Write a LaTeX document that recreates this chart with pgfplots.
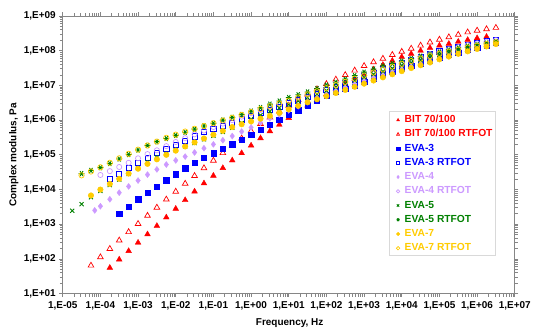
\documentclass[border=0pt]{standalone}
\usepackage{pgfplots}
\pgfplotsset{compat=1.18}
\usepackage{fontspec}
\setmainfont{Liberation Sans}
\definecolor{cred}{RGB}{255,0,0}
\definecolor{cblue}{RGB}{0,0,255}
\definecolor{clav}{RGB}{204,153,255}
\definecolor{cgreen}{RGB}{0,128,0}
\definecolor{cgold}{RGB}{255,204,0}
\definecolor{axgray}{RGB}{134,134,134}
\definecolor{leggray}{RGB}{217,217,217}
\begin{document}
\fontsize{10bp}{12bp}\selectfont\bfseries
\begin{tikzpicture}
\begin{axis}[
  scale only axis, width=454bp, height=279bp,
  xmode=log, ymode=log,
  xmin=1e-5, xmax=1e7, ymin=10, ymax=1e9,
  xtick={1e-5,1e-4,1e-3,1e-2,1e-1,1e0,1e1,1e2,1e3,1e4,1e5,1e6,1e7},
  xticklabels={{1,E-05},{1,E-04},{1,E-03},{1,E-02},{1,E-01},{1,E+00},{1,E+01},{1,E+02},{1,E+03},{1,E+04},{1,E+05},{1,E+06},{1,E+07}},
  ytick={1e1,1e2,1e3,1e4,1e5,1e6,1e7,1e8,1e9},
  yticklabels={{1,E+01},{1,E+02},{1,E+03},{1,E+04},{1,E+05},{1,E+06},{1,E+07},{1,E+08},{1,E+09}},
  minor tick num=0, log ticks with fixed point=false,
  tick align=outside, major tick length=3.5bp,
  axis line style={axgray, line width=0.8bp},
  every tick/.style={axgray, line width=0.8bp},
  ticklabel style={font=\fontsize{10bp}{12bp}\selectfont\bfseries, black},
  xticklabel style={yshift=-1bp},
  xlabel={Frequency, Hz}, ylabel={Complex modulus, Pa},
  label style={font=\fontsize{10bp}{12bp}\selectfont\bfseries},
  xlabel style={at={(axis description cs:0.502,-0.104)}, anchor=center},
  ylabel style={at={(axis description cs:-0.108,0.5)}, anchor=center},
  clip=false,
  legend style={at={(axis description cs:0.726,0.655)}, anchor=north west,
    draw=none, fill=none,
    inner xsep=2bp, inner ysep=1bp, column sep=1.5bp,
    font=\fontsize{10.3bp}{12bp}\selectfont\bfseries,
    nodes={inner xsep=1.2bp, inner ysep=2.4bp, text height=7.3bp, text depth=2.2bp}},
  legend cell align=left,
  legend image code/.code={\path[draw=none,fill=none] (0bp,-1bp) rectangle (9bp,1bp); \draw[#1, mark size=1.7bp] plot coordinates {(5bp,0bp)};},
]
\draw[leggray, line width=0.7bp, fill=white] (axis description cs:0.7218,0.657) rectangle (axis description cs:0.9566,0.1398);
% BIT 70/100
\addplot[only marks, mark=triangle*, mark size=3.3bp, cred, mark options={fill=cred, draw=cred}] coordinates {
(1.78e-4,56) (3.16e-4,97) (5.62e-4,170) (1e-3,296) (1.78e-3,516) (3.16e-3,899) (5.62e-3,1580) (1e-2,2810) (1.78e-2,4980) (3.16e-2,8810) (5.62e-2,1.51e4) (0.1,2.51e4) (0.178,4.17e4) (0.316,6.92e4) (0.562,1.12e5) (1,1.86e5) (1.78,3.02e5) (3.16,4.79e5) (5.62,7.41e5) (10,1.15e6) (17.8,1.78e6) (31.6,2.63e6) (56.2,3.89e6) (100,5.62e6) (178,7.94e6) (316,1.12e7) (562,1.55e7) (1e3,2.14e7) (1.78e3,2.88e7) (3.16e3,3.89e7) (5.62e3,5.13e7) (1e4,6.61e7) (1.78e4,8.13e7) (3.16e4,1e8) (5.62e4,1.2e8) (1e5,1.41e8) (1.78e5,1.58e8) (3.16e5,1.82e8) (5.62e5,2.04e8) (1e6,2.29e8) (1.78e6,2.51e8)};
\addlegendentry{\textcolor{cred}{BIT 70/100}}
% BIT 70/100 RTFOT
\addplot[only marks, mark=triangle, mark size=3.3bp, cred, mark options={fill=white, draw=cred, line width=0.7bp}] coordinates {
(5.62e-5,65) (1e-4,113) (1.78e-4,197) (3.16e-4,344) (5.62e-4,600) (1e-3,1030) (1.78e-3,1770) (3.16e-3,3040) (5.62e-3,5200) (1e-2,8750) (1.78e-2,1.48e4) (3.16e-2,2.48e4) (5.62e-2,4.15e4) (0.1,6.85e4) (0.178,1.13e5) (0.316,1.85e5) (0.562,2.99e5) (1,4.83e5) (1.78,7.82e5) (3.16,1.2e6) (5.62,1.78e6) (10,2.63e6) (17.8,3.8e6) (31.6,5.5e6) (56.2,7.76e6) (100,1.1e7) (178,1.48e7) (316,2e7) (562,2.69e7) (1e3,3.63e7) (1.78e3,4.68e7) (3.16e3,5.89e7) (5.62e3,7.59e7) (1e4,9.33e7) (1.78e4,1.15e8) (3.16e4,1.41e8) (5.62e4,1.74e8) (1e5,2.09e8) (1.78e5,2.45e8) (3.16e5,2.88e8) (5.62e5,3.39e8) (1e6,3.8e8) (1.78e6,4.17e8) (3.16e6,4.57e8)};
\addlegendentry{\textcolor{cred}{BIT 70/100 RTFOT}}
% EVA-3
\addplot[only marks, mark=square*, mark size=2.7bp, cblue, mark options={fill=cblue, draw=cblue}] coordinates {
(3.16e-4,2000) (5.62e-4,3240) (1e-3,5250) (1.78e-3,8130) (3.16e-3,1.23e4) (5.62e-3,1.86e4) (1e-2,2.75e4) (1.78e-2,4.17e4) (3.16e-2,6.03e4) (5.62e-2,8.32e4) (0.1,1.12e5) (0.178,1.48e5) (0.316,2e5) (0.562,2.75e5) (1,3.8e5) (1.78,5.37e5) (3.16,7.41e5) (5.62,1.02e6) (10,1.41e6) (17.8,1.95e6) (31.6,2.69e6) (56.2,3.72e6) (100,5.01e6) (178,6.46e6) (316,8.13e6) (562,1.02e7) (1e3,1.29e7) (1.78e3,1.62e7) (3.16e3,2.04e7) (5.62e3,2.51e7) (1e4,3.02e7) (1.78e4,3.63e7) (3.16e4,4.37e7) (5.62e4,5.25e7) (1e5,6.31e7) (1.78e5,7.59e7) (3.16e5,8.91e7) (5.62e5,1.05e8) (1e6,1.23e8) (1.78e6,1.45e8) (3.16e6,1.7e8)};
\addlegendentry{\textcolor{cblue}{EVA-3}}
% EVA-3 RTFOT
\addplot[only marks, mark=square, mark size=2.6bp, cblue, mark options={fill=white, draw=cblue, line width=0.7bp}] coordinates {
(1.78e-4,2e4) (3.16e-4,2.88e4) (5.62e-4,4.17e4) (1e-3,5.89e4) (1.78e-3,8.13e4) (3.16e-3,1.12e5) (5.62e-3,1.48e5) (1e-2,1.95e5) (1.78e-2,2.57e5) (3.16e-2,3.39e5) (5.62e-2,4.47e5) (0.1,5.5e5) (0.178,6.76e5) (0.316,8.32e5) (0.562,1.05e6) (1,1.35e6) (1.78,1.66e6) (3.16,2e6) (5.62,2.45e6) (10,3.02e6) (17.8,3.72e6) (31.6,4.68e6) (56.2,5.75e6) (100,7.24e6) (178,9.12e6) (316,1.17e7) (562,1.48e7) (1e3,1.86e7) (1.78e3,2.34e7) (3.16e3,2.88e7) (5.62e3,3.55e7) (1e4,4.37e7) (1.78e4,5.37e7) (3.16e4,6.61e7) (5.62e4,7.94e7) (1e5,9.55e7) (1.78e5,1.1e8) (3.16e5,1.26e8) (5.62e5,1.45e8) (1e6,1.66e8) (1.78e6,1.86e8) (3.16e6,2.04e8)};
\addlegendentry{\textcolor{cblue}{EVA-3 RTFOT}}
% EVA-4
\addplot[only marks, mark=diamond*, mark size=3.0bp, clav, mark options={fill=clav, draw=clav}] coordinates {
(7.08e-5,2510) (1e-4,3310) (1.78e-4,5250) (3.16e-4,8130) (5.62e-4,1.23e4) (1e-3,1.82e4) (1.78e-3,2.69e4) (3.16e-3,3.8e4) (5.62e-3,5.25e4) (1e-2,6.92e4) (1.78e-2,8.91e4) (3.16e-2,1.17e5) (5.62e-2,1.55e5) (0.1,2e5) (0.178,2.63e5) (0.316,3.47e5) (0.562,4.68e5) (1,6.17e5) (1.78,8.51e5) (3.16,1.12e6) (5.62,1.45e6) (10,1.91e6) (17.8,2.51e6) (31.6,3.39e6) (56.2,4.37e6) (100,5.5e6) (178,6.92e6) (316,8.71e6) (562,1.12e7) (1e3,1.41e7) (1.78e3,1.74e7) (3.16e3,2.14e7) (5.62e3,2.69e7) (1e4,3.31e7) (1.78e4,3.98e7) (3.16e4,4.9e7) (5.62e4,5.89e7) (1e5,7.24e7) (1.78e5,8.32e7) (3.16e5,9.77e7) (5.62e5,1.12e8) (1e6,1.32e8) (1.78e6,1.48e8) (3.16e6,1.66e8)};
\addlegendentry{\textcolor{clav}{EVA-4}}
% EVA-4 RTFOT
\addplot[only marks, mark=o, mark size=2.6bp, clav, mark options={fill=white, draw=clav, line width=0.7bp}] coordinates {
(1e-4,2.63e4) (1.78e-4,3.39e4) (3.16e-4,4.47e4) (5.62e-4,5.89e4) (1e-3,7.94e4) (1.78e-3,1.05e5) (3.16e-3,1.35e5) (5.62e-3,1.78e5) (1e-2,2.34e5) (1.78e-2,3.02e5) (3.16e-2,3.89e5) (5.62e-2,5.01e5) (0.1,6.31e5) (0.178,7.94e5) (0.316,1e6) (0.562,1.26e6) (1,1.58e6) (1.78,1.95e6) (3.16,2.4e6) (5.62,2.95e6) (10,3.63e6) (17.8,4.47e6) (31.6,5.5e6) (56.2,6.76e6) (100,8.32e6) (178,1.02e7) (316,1.26e7) (562,1.58e7) (1e3,1.95e7) (1.78e3,2.4e7) (3.16e3,2.95e7) (5.62e3,3.63e7) (1e4,4.47e7) (1.78e4,5.5e7) (3.16e4,6.61e7) (5.62e4,7.94e7) (1e5,9.33e7) (1.78e5,1.1e8) (3.16e5,1.26e8) (5.62e5,1.45e8) (1e6,1.62e8) (1.78e6,1.82e8) (3.16e6,2e8)};
\addlegendentry{\textcolor{clav}{EVA-4 RTFOT}}
% EVA-5
\addplot[only marks, mark=x, mark size=2.9bp, cgreen, mark options={draw=cgreen, line width=0.9bp}] coordinates {
(1.78e-5,2450) (3.16e-5,3800) (5.62e-5,6030) (1e-4,9120) (1.78e-4,1.35e4) (3.16e-4,1.95e4) (5.62e-4,2.82e4) (1e-3,4.17e4) (1.78e-3,6.17e4) (3.16e-3,8.51e4) (5.62e-3,1.07e5) (1e-2,1.38e5) (1.78e-2,1.74e5) (3.16e-2,2.19e5) (5.62e-2,2.82e5) (0.1,3.55e5) (0.178,4.57e5) (0.316,6.03e5) (0.562,8.13e5) (1,1.07e6) (1.78,1.38e6) (3.16,1.78e6) (5.62,2.24e6) (10,2.82e6) (17.8,3.55e6) (31.6,4.47e6) (56.2,5.62e6) (100,7.08e6) (178,8.91e6) (316,1.12e7) (562,1.38e7) (1e3,1.7e7) (1.78e3,2.09e7) (3.16e3,2.51e7) (5.62e3,3.09e7) (1e4,3.72e7) (1.78e4,4.47e7) (3.16e4,5.37e7) (5.62e4,6.46e7) (1e5,7.59e7) (1.78e5,8.91e7) (3.16e5,1.05e8) (5.62e5,1.2e8) (1e6,1.38e8) (1.78e6,1.55e8) (3.16e6,1.74e8)};
\addlegendentry{\textcolor{cgreen}{EVA-5}}
% EVA-5 RTFOT
\addplot[only marks, mark=asterisk, mark size=2.9bp, cgreen, mark options={draw=cgreen, line width=0.9bp, rotate=90}] coordinates {
(3.16e-5,2.88e4) (5.62e-5,3.55e4) (1e-4,4.27e4) (1.78e-4,5.62e4) (3.16e-4,7.59e4) (5.62e-4,1.02e5) (1e-3,1.38e5) (1.78e-3,1.86e5) (3.16e-3,2.4e5) (5.62e-3,2.95e5) (1e-2,3.63e5) (1.78e-2,4.47e5) (3.16e-2,5.5e5) (5.62e-2,6.76e5) (0.1,8.13e5) (0.178,1e6) (0.316,1.2e6) (0.562,1.45e6) (1,1.82e6) (1.78,2.29e6) (3.16,2.88e6) (5.62,3.55e6) (10,4.47e6) (17.8,5.37e6) (31.6,6.46e6) (56.2,8.13e6) (100,1.02e7) (178,1.23e7) (316,1.51e7) (562,1.91e7) (1e3,2.4e7) (1.78e3,2.95e7) (3.16e3,3.63e7) (5.62e3,4.27e7) (1e4,5.01e7) (1.78e4,5.89e7) (3.16e4,6.92e7) (5.62e4,7.94e7) (1e5,9.12e7) (1.78e5,1.05e8) (3.16e5,1.2e8) (5.62e5,1.35e8) (1e6,1.51e8) (1.78e6,1.66e8) (3.16e6,1.82e8)};
\addlegendentry{\textcolor{cgreen}{EVA-5 RTFOT}}
% EVA-7
\addplot[only marks, mark=*, mark size=2.8bp, cgold, mark options={fill=cgold, draw=cgold}] coordinates {
(5.62e-5,6760) (1e-4,1e4) (1.78e-4,1.45e4) (3.16e-4,2.04e4) (5.62e-4,2.88e4) (1e-3,3.98e4) (1.78e-3,5.5e4) (3.16e-3,7.41e4) (5.62e-3,1e5) (1e-2,1.32e5) (1.78e-2,1.74e5) (3.16e-2,2.29e5) (5.62e-2,2.95e5) (0.1,3.8e5) (0.178,4.9e5) (0.316,6.31e5) (0.562,7.59e5) (1,9.12e5) (1.78,1.1e6) (3.16,1.32e6) (5.62,1.62e6) (10,2.04e6) (17.8,2.57e6) (31.6,3.24e6) (56.2,3.98e6) (100,4.9e6) (178,6.03e6) (316,7.41e6) (562,9.12e6) (1e3,1.12e7) (1.78e3,1.38e7) (3.16e3,1.7e7) (5.62e3,2.09e7) (1e4,2.57e7) (1.78e4,3.16e7) (3.16e4,3.8e7) (5.62e4,4.57e7) (1e5,5.62e7) (1.78e5,6.76e7) (3.16e5,8.13e7) (5.62e5,9.55e7) (1e6,1.12e8) (1.78e6,1.32e8) (3.16e6,1.55e8)};
\addlegendentry{\textcolor{cgold}{EVA-7}}
% EVA-7 RTFOT
\addplot[only marks, mark=o, mark size=2.7bp, cgold, mark options={fill=white, draw=cgold, line width=0.7bp}] coordinates {
(3.16e-5,2.57e4) (5.62e-5,3.31e4) (1e-4,4.37e4) (1.78e-4,5.89e4) (3.16e-4,7.94e4) (5.62e-4,1.07e5) (1e-3,1.41e5) (1.78e-3,1.86e5) (3.16e-3,2.4e5) (5.62e-3,3.09e5) (1e-2,3.8e5) (1.78e-2,4.68e5) (3.16e-2,5.62e5) (5.62e-2,6.76e5) (0.1,8.13e5) (0.178,9.77e5) (0.316,1.17e6) (0.562,1.41e6) (1,1.7e6) (1.78,2.09e6) (3.16,2.51e6) (5.62,3.02e6) (10,3.63e6) (17.8,4.47e6) (31.6,5.5e6) (56.2,6.76e6) (100,8.32e6) (178,1.02e7) (316,1.26e7) (562,1.55e7) (1e3,1.91e7) (1.78e3,2.34e7) (3.16e3,2.88e7) (5.62e3,3.47e7) (1e4,4.17e7) (1.78e4,5.01e7) (3.16e4,5.89e7) (5.62e4,6.92e7) (1e5,8.13e7) (1.78e5,9.33e7) (3.16e5,1.07e8) (5.62e5,1.23e8) (1e6,1.38e8) (1.78e6,1.55e8) (3.16e6,1.74e8)};
\addlegendentry{\textcolor{cgold}{EVA-7 RTFOT}}
\end{axis}
\path[use as bounding box] (-63bp,-32bp) rectangle (471bp,295bp);
\end{tikzpicture}
\end{document}
